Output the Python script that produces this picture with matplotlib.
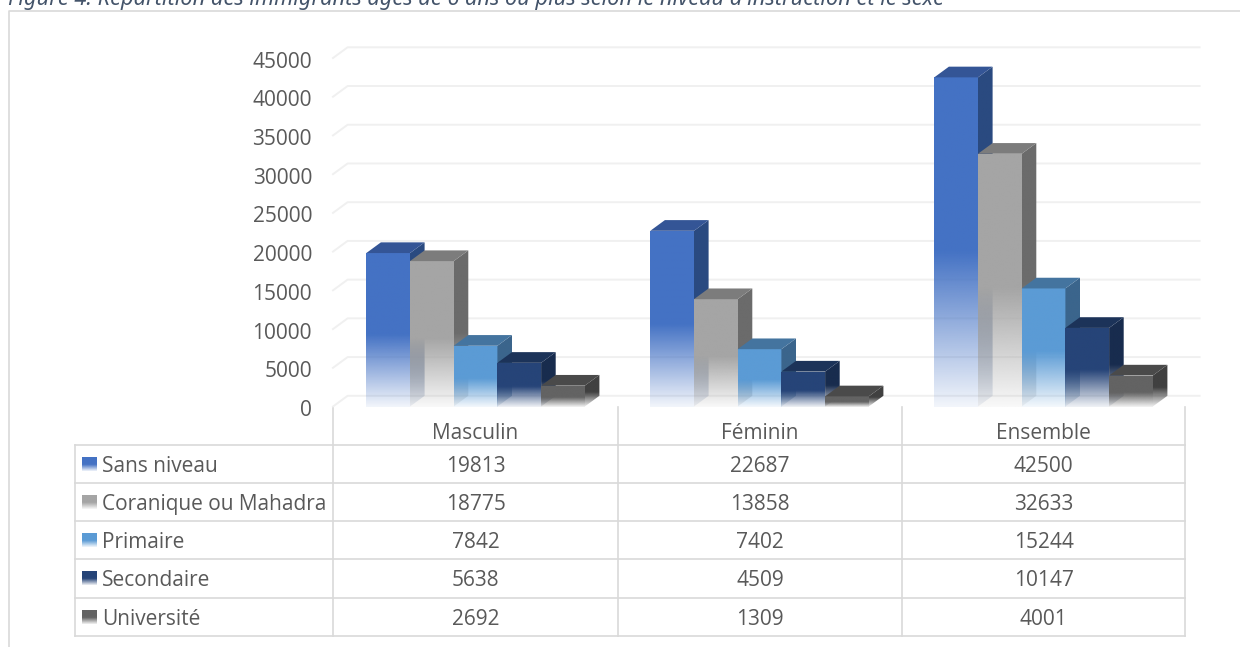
import numpy as np
import matplotlib
matplotlib.use("Agg")
import matplotlib.pyplot as plt
from matplotlib.colors import to_rgb
from matplotlib.patches import Polygon

plt.rcParams['font.family'] = ['Open Sans', 'DejaVu Sans']

title = "Figure 4: Répartition des immigrants âgés de 6 ans ou plus selon le niveau d'instruction et le sexe"
groups = ["Masculin", "Féminin", "Ensemble"]
levels = ["Sans niveau", "Coranique ou Mahadra", "Primaire", "Secondaire", "Université"]
sans_niveau = [19813, 22687, 42500]
coranique = [18775, 13858, 32633]
primaire = [7842, 7402, 15244]
secondaire = [5638, 4509, 10147]
universite = [2692, 1309, 4001]
series = [sans_niveau, coranique, primaire, secondaire, universite]
y_ticks = [0, 5000, 10000, 15000, 20000, 25000, 30000, 35000, 40000, 45000]

front_colors = ["#4472c4", "#a5a5a5", "#5b9bd5", "#264478", "#636363"]
top_colors = ["#345596", "#7c7c7c", "#44749f", "#1c3359", "#4a4a4a"]
side_colors = ["#2a4a80", "#6b6b6b", "#3b658c", "#182c4e", "#404040"]
text_color = "#595959"
grid_color = "#f0f0f0"
line_color = "#d9d9d9"

W, H = 1240, 647
fig = plt.figure(figsize=(W / 100, H / 100), dpi=100)

# pixel layer for the frame, title and table
pax = fig.add_axes([0, 0, 1, 1])
pax.set_xlim(0, W)
pax.set_ylim(H, 0)
pax.axis("off")

# value axes: x runs over the three groups, y over the counts
left, right, y0, y45 = 333, 1185, 406.5, 58
ax = fig.add_axes([left / W, 1 - y0 / H, (right - left) / W, (y0 - y45) / H])
ax.patch.set_alpha(0)
ax.axis("off")

unit_x = (right - left) / 3
unit_y = (y0 - y45) / 45000
depth_x = 14.6 / unit_x
depth_y = 10.7 / unit_y
bar_w = 43.7 / unit_x
bar_start = 33.3 / unit_x


def fade(color, n=200):
    # top part solid, then fading towards the base of the bar
    rgba = np.ones((n, 1, 4))
    rgba[:, 0, :3] = to_rgb(color)
    pos = np.linspace(0, 1, n)
    rgba[:, 0, 3] = np.where(pos < 0.53, 1.0, 1.0 - (pos - 0.53) / 0.47 * 0.93)
    return rgba


def draw_bar(x, val, i):
    ax.imshow(fade(front_colors[i]), extent=[x, x + bar_w, 0, val],
              aspect="auto", zorder=3, interpolation="bilinear")
    # side face, cut out of a gradient image
    side = Polygon([(x + bar_w, 0), (x + bar_w + depth_x, depth_y),
                    (x + bar_w + depth_x, val + depth_y), (x + bar_w, val)],
                   transform=ax.transData, fc="none", ec="none")
    ax.add_patch(side)
    im = ax.imshow(fade(side_colors[i]), extent=[x + bar_w, x + bar_w + depth_x, 0, val + depth_y],
                   aspect="auto", zorder=3, interpolation="bilinear")
    im.set_clip_path(side)
    ax.add_patch(Polygon([(x, val), (x + depth_x, val + depth_y),
                          (x + bar_w + depth_x, val + depth_y), (x + bar_w, val)],
                         fc=top_colors[i], ec="none", zorder=3))


# back wall grid and left wall ticks
for v in y_ticks:
    ax.plot([0, depth_x, 3 + depth_x], [v, v + depth_y, v + depth_y], color=grid_color, lw=1.4,
            zorder=1, clip_on=False)
    ax.text(-21 / unit_x, v - 9.5 / unit_y, str(v), ha="right", va="baseline",
            fontsize=15, color=text_color)

for g in range(len(groups)):
    for i, vals in enumerate(series):
        draw_bar(g + bar_start + i * bar_w, vals[g], i)

ax.set_xlim(0, 3)
ax.set_ylim(0, 45000)

# surrounding frame and caption
pax.plot([8.5, 8.5, W], [H, 10.5, 10.5], color=line_color, lw=1.2)
pax.text(8.5, 4.5, title, fontsize=15.7, style="italic", family=["Noto Sans", "DejaVu Sans"],
         color="#44546a", va="baseline", ha="left")

# data table under the axes
col_x = [333, 618, 902, 1185]
row_y = [444.5, 482.8, 521, 559.3, 597.7, 635.7]
tab_left = 74.5
for x in col_x:
    pax.plot([x, x], [407, row_y[-1]], color=line_color, lw=1.2)
pax.plot([tab_left, tab_left], [row_y[0], row_y[-1]], color=line_color, lw=1.2)
for y in row_y:
    pax.plot([tab_left, col_x[-1]], [y, y], color=line_color, lw=1.2)

for g, name in enumerate(groups):
    cx = (col_x[g] + col_x[g + 1]) / 2
    pax.text(cx, 439, name, ha="center", va="baseline", fontsize=15, color=text_color)
    for r, vals in enumerate(series):
        pax.text(cx, (row_y[r] + row_y[r + 1]) / 2 + 8, str(vals[g]), ha="center", va="baseline",
                 fontsize=15, color=text_color)

for r, name in enumerate(levels):
    cy = (row_y[r] + row_y[r + 1]) / 2
    pax.imshow(fade(front_colors[r]), extent=[82, 97, cy + 7, cy - 7], aspect="auto",
               interpolation="bilinear")
    pax.text(102, cy + 8, name, ha="left", va="baseline", fontsize=15, color=text_color)

pax.set_xlim(0, W)
pax.set_ylim(H, 0)

fig.savefig("out.png", dpi=100)
